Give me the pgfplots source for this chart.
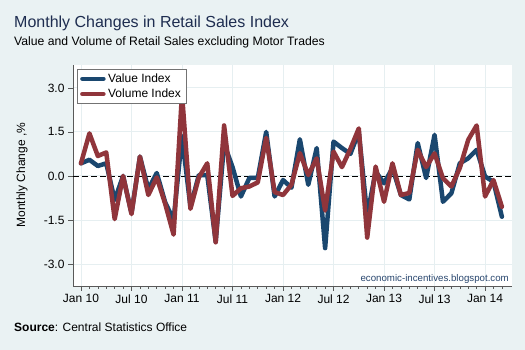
\documentclass[border=0pt]{standalone}
\usepackage{pgfplots}
\pgfplotsset{compat=1.18}
\usepackage{pgfplotstable}
\usepackage{fontspec}
\setmainfont{Liberation Sans}
\definecolor{bg}{RGB}{234,242,243}
\definecolor{gridc}{RGB}{230,239,241}
\definecolor{valc}{RGB}{26,71,111}
\definecolor{volc}{RGB}{144,53,59}
\definecolor{titlec}{RGB}{30,45,80}
\definecolor{wmc}{RGB}{40,70,110}

\pgfplotstableread{
i value volume
0 0.43 0.43
1 0.55 1.45
2 0.34 0.68
3 0.43 0.80
4 -0.82 -1.47
5 0.00 0.00
6 -1.27 -1.30
7 0.66 0.66
8 -0.45 -0.65
9 0.10 -0.05
10 -0.90 -0.95
11 -1.50 -2.00
12 1.35 2.80
13 -1.05 -1.12
14 0.03 -0.05
15 0.03 0.43
16 -2.24 -2.26
17 1.10 1.72
18 0.30 -0.68
19 -0.70 -0.42
20 -0.07 -0.36
21 -0.07 -0.22
22 1.50 1.30
23 -0.70 -0.55
24 -0.14 -0.65
25 -0.40 -0.30
26 1.25 0.78
27 -0.30 0.03
28 0.95 0.60
29 -2.46 -1.18
30 1.17 0.83
31 0.95 0.30
32 0.75 0.92
33 1.50 1.62
34 -1.35 -2.10
35 0.15 0.32
36 -0.25 -0.88
37 0.27 0.43
38 -0.65 -0.65
39 -0.80 -0.58
40 1.12 0.89
41 -0.07 0.30
42 1.40 0.77
43 -0.88 -0.08
44 -0.59 -0.36
45 0.43 0.27
46 0.60 1.23
47 0.89 1.72
48 -0.02 -0.70
49 -0.20 -0.14
50 -1.39 -1.05
}\datatable

\begin{document}
\begin{tikzpicture}[x=1pt,y=1pt]
\useasboundingbox (0,0) rectangle (525,350);
\fill[bg] (0,0) rectangle (525,350);
\node[anchor=base west, inner sep=0, text=titlec, font=\fontsize{16}{19}\selectfont] at (14,322) {Monthly Changes in Retail Sales Index};
\node[anchor=base west, inner sep=0, text=black, font=\fontsize{12.2}{14}\selectfont] at (14,304.3) {Value and Volume of Retail Sales excluding Motor Trades};
\node[anchor=base west, inner sep=0, text=black, font=\fontsize{12}{14}\selectfont] at (14,18) {\textbf{Source}: Central Statistics Office};
\node[rotate=90, inner sep=0, font=\fontsize{12}{14}\selectfont] at (22,175) {Monthly Change ,\%};
\begin{axis}[
  at={(73pt,64pt)}, anchor=south west,
  scale only axis, width=439pt, height=221pt,
  xmin=-0.95, xmax=51.2, ymin=-3.75, ymax=3.78,
  axis lines*=left,
  axis background/.style={fill=white},
  axis line style={draw=black!65, line width=0.8pt, -},
  xtick={0,6,...,48},
  xticklabels={Jan 10,Jul 10,Jan 11,Jul 11,Jan 12,Jul 12,Jan 13,Jul 13,Jan 14},
  minor xtick={0,...,50},
  ytick={-3,-1.5,0,1.5,3},
  yticklabels={-3.0,-1.5,0.0,1.5,3.0},
  tick align=outside,
  major tick length=5pt, minor tick length=3pt,
  tick style={draw=black!65, line width=0.6pt},
  xmajorgrids, ymajorgrids,
  grid style={draw=gridc, line width=0.9pt},
  tick label style={font=\fontsize{12}{14}\selectfont},
  legend style={at={(0.009,0.982)}, anchor=north west, draw=black!55, fill=white,
    font=\fontsize{12}{14}\selectfont, inner xsep=3pt, inner ysep=3pt,
    nodes={inner xsep=2.5pt, inner ysep=1.5pt}, row sep=2pt},
  legend cell align=left,
  legend image code/.code={\draw[#1, line cap=round] (0pt,0pt) -- (21pt,0pt);},
]
\addplot[black, dash pattern=on 6pt off 3pt, line width=0.8pt, forget plot] coordinates {(-0.95,0) (51.2,0)};
\addplot[valc, line width=4.5pt, line join=round, line cap=round] table[x=i, y=value] {\datatable};
\addlegendentry{Value Index}
\addplot[volc, line width=4.5pt, line join=round, line cap=round] table[x=i, y=volume] {\datatable};
\addlegendentry{Volume Index}
\end{axis}
\node[anchor=base east, inner sep=0, text=wmc, font=\fontsize{9.7}{11}\selectfont] at (509,68.3) {economic-incentives.blogspot.com};
\end{tikzpicture}
\end{document}
